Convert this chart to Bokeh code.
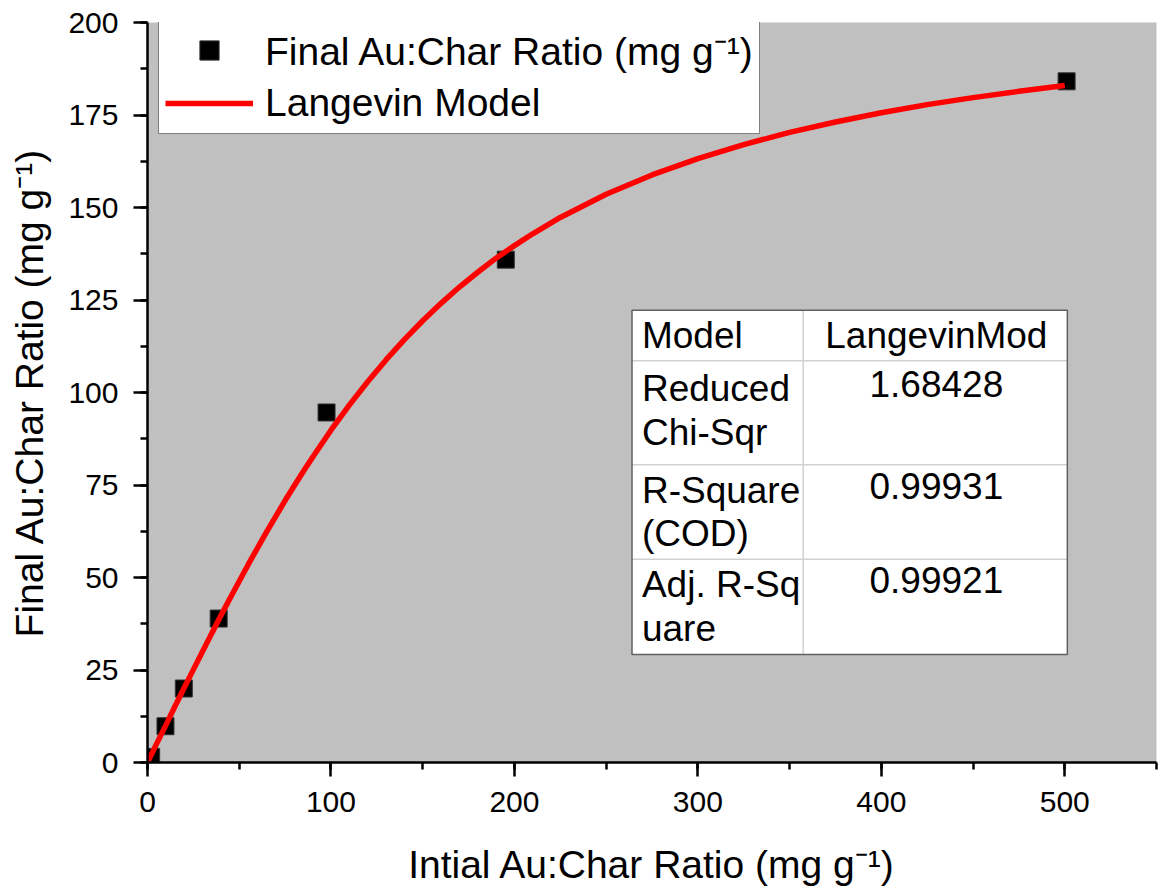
from bokeh.plotting import figure
from bokeh.models import Range1d, SingleIntervalTicker, Legend, LegendItem
from bokeh.core.properties import value
from bokeh.embed import file_html
from bokeh.resources import INLINE

# measured data
x_obs = [2, 9.8, 19.8, 38.8, 97.6, 195.3, 501.0]
y_obs = [1.5, 9.8, 20.0, 38.9, 94.6, 135.9, 184.1]

# fitted Langevin curve
x_fit = [0, 5, 10, 15, 20, 25, 30, 35, 40, 45, 50, 55, 60, 65, 70, 75, 80, 85, 90,
         100, 110, 120, 130, 140, 150, 160, 170, 180, 190, 200, 210, 225, 250, 275,
         300, 325, 350, 375, 400, 425, 450, 475, 500]
y_fit = [0, 5.1, 10.1, 15.2, 20.2, 25.1, 30.0, 34.9, 39.7, 44.4, 49.0, 53.6, 58.0,
         62.4, 66.6, 70.8, 74.8, 78.7, 82.5,
         89.8, 96.6, 102.9, 108.8, 114.3, 119.4, 124.1, 128.5, 132.5, 136.3, 139.7,
         142.9, 147.3, 153.6, 158.8,
         163.2, 167.0, 170.3, 173.1, 175.6, 177.8, 179.7, 181.4, 183.0]

# stats table
tbl_left = ["Model", "Reduced", "Chi-Sqr", "R-Square", "(COD)", "Adj. R-Sq", "uare"]
tbl_left_y = [115.4, 101.1, 89.2, 73.5, 61.9, 48.1, 36.2]
tbl_right = ["LangevinMod", "1.68428", "0.99931", "0.99921"]
tbl_right_y = [115.4, 102.2, 74.6, 49.2]
tbl_x0, tbl_x1, tbl_xdiv = 264.1, 501.4, 357.4
tbl_y_top, tbl_y_bot = 122.2, 29.2
tbl_rows = [108.6, 80.5, 54.9]

FONT = "Liberation Sans"

p = figure(width=1166, height=893, output_backend="svg", toolbar_location=None,
           x_range=Range1d(0, 550), y_range=Range1d(0, 200),
           min_border_left=147, min_border_right=10, min_border_top=22, min_border_bottom=131)
p.background_fill_color = "#c0c0c0"
p.border_fill_color = "white"
p.outline_line_color = None
p.grid.visible = False

p.xaxis.ticker = SingleIntervalTicker(interval=100, num_minor_ticks=2)
p.yaxis.ticker = SingleIntervalTicker(interval=25, num_minor_ticks=2)
for ax in (p.xaxis, p.yaxis):
    ax.axis_line_width = 2.5
    ax.axis_line_color = "black"
    ax.major_tick_line_width = 2.5
    ax.minor_tick_line_width = 2.5
    ax.major_tick_out = 14
    ax.major_tick_in = 0
    ax.minor_tick_out = 7
    ax.minor_tick_in = 0
    ax.major_label_text_font = FONT
    ax.major_label_text_font_size = "30px"
    ax.major_label_text_color = "black"
    ax.major_label_standoff = 15
    ax.axis_label_text_font = FONT
    ax.axis_label_text_font_size = "39px"
    ax.axis_label_text_font_style = "normal"
    ax.axis_label_text_color = "black"
p.xaxis.axis_label = "Intial Au:Char Ratio (mg g\u207b\u00b9)"
p.yaxis.axis_label = "Final Au:Char Ratio (mg g\u207b\u00b9)"
p.xaxis.axis_label_standoff = 28
p.yaxis.axis_label_standoff = 14

# table
p.quad(left=[tbl_x0], right=[tbl_x1], bottom=[tbl_y_bot], top=[tbl_y_top],
       fill_color="white", line_color=None)
p.segment(x0=[tbl_x0] * 3, x1=[tbl_x1] * 3, y0=tbl_rows, y1=tbl_rows,
          line_color="#d0d0d0", line_width=1.5)
p.segment(x0=[tbl_xdiv], x1=[tbl_xdiv], y0=[tbl_y_bot], y1=[tbl_y_top],
          line_color="#d0d0d0", line_width=1.5)
p.quad(left=[tbl_x0], right=[tbl_x1], bottom=[tbl_y_bot], top=[tbl_y_top],
       fill_color=None, line_color="#606060", line_width=1.5)
p.text(x=[269.5] * len(tbl_left), y=tbl_left_y, text=tbl_left,
       text_font=value(FONT), text_font_size="37px", text_baseline="middle",
       text_align="left", text_color="black")
p.text(x=[430] * len(tbl_right), y=tbl_right_y, text=tbl_right,
       text_font=value(FONT), text_font_size="37px", text_baseline="middle",
       text_align="center", text_color="black")

sc = p.scatter(x_obs, y_obs, marker="square", size=17, fill_color="black",
               line_color="#333333", line_width=1)
ln = p.line(x_fit, y_fit, line_color="#ff0000", line_width=5.5)

legend = Legend(items=[LegendItem(label="Final Au:Char Ratio (mg g\u207b\u00b9)", renderers=[sc]),
                       LegendItem(label="Langevin Model", renderers=[ln])],
                location=(11, 628), orientation="vertical",
                label_text_font=FONT, label_text_font_size="39px", label_text_color="black",
                glyph_width=88, glyph_height=48, label_height=48, label_standoff=12,
                padding=6, spacing=3, margin=0,
                border_line_color="black", border_line_width=1,
                background_fill_color="white", background_fill_alpha=1.0)
p.add_layout(legend, "center")

open("out.html", "w").write(file_html(p, INLINE))
